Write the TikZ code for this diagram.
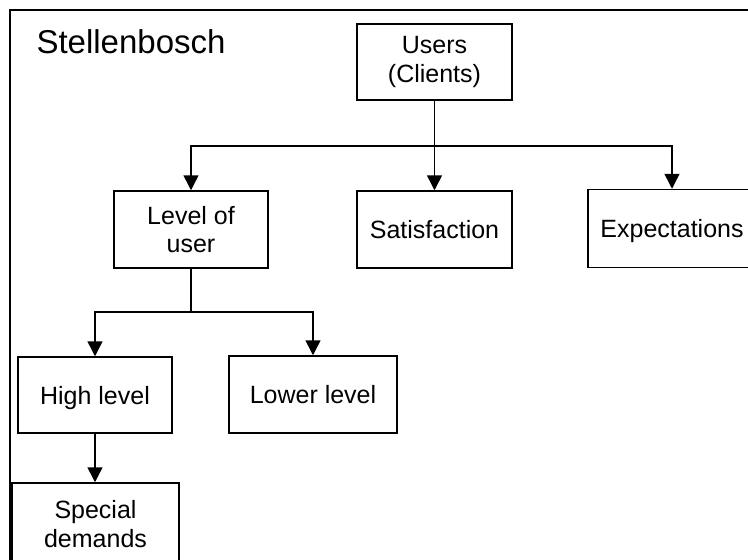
\documentclass[tikz,border=0pt]{standalone}
\usepackage{fontspec}
\setmainfont{Liberation Sans}
\usetikzlibrary{arrows.meta}
\begin{document}
\begin{tikzpicture}[x=1pt,y=-1pt,
  box/.style={draw,line width=1.5pt,inner sep=0pt,align=center,
    font=\fontsize{25}{28.5}\selectfont},
  oneline/.style={text height=18pt,text depth=0pt},
  link/.style={line width=1.5pt},
  arr/.style={link,-{Triangle[width=15pt,length=15pt]}},
  frame/.style={line width=2.5pt}]
  \useasboundingbox (0,0) rectangle (748,560);
  \clip (0,0) rectangle (748,560);
  \fill[white] (0,0) rectangle (748,560);
  % outer frame, running past the page on the right and at the bottom
  \draw[frame] (10,580) -- (10,10) -- (770,10);
  \node[anchor=base west,font=\fontsize{33}{38}\selectfont] (title) at (33,53) {Stellenbosch};
  % boxes
  \node[box,minimum width=155pt,minimum height=76pt] (users) at (434.5,62) {Users\\(Clients)};
  \node[box,minimum width=154pt,minimum height=77pt] (level) at (191,229.5) {Level of\\user};
  \node[box,oneline,minimum width=155pt,minimum height=77pt] (satisf) at (434.5,229.5) {Satisfaction};
  \node[box,oneline,minimum width=168pt,minimum height=78pt] (expect) at (672,228.5) {Expectations};
  \node[box,oneline,minimum width=154pt,minimum height=76pt] (high) at (95,395) {High level};
  \node[box,oneline,minimum width=168pt,minimum height=77pt] (lower) at (313,394.5) {Lower level};
  \node[box,minimum width=167pt,minimum height=82pt] (special) at (95.5,524) {Special\\demands};
  % branch points
  \coordinate (j1) at (434.5,146);
  \coordinate (j2) at (191,312);
  % connectors
  \draw[arr] (users) -- (satisf);
  \draw[arr] (j1) -| (level.north);
  \draw[arr] (j1) -| (expect.north);
  \draw[link] (level) -- (j2);
  \draw[arr] (j2) -| (high.north);
  \draw[arr] (j2) -| (lower.north);
  \draw[arr] (high.south) -- (special.north -| high.south);
\end{tikzpicture}
\end{document}
